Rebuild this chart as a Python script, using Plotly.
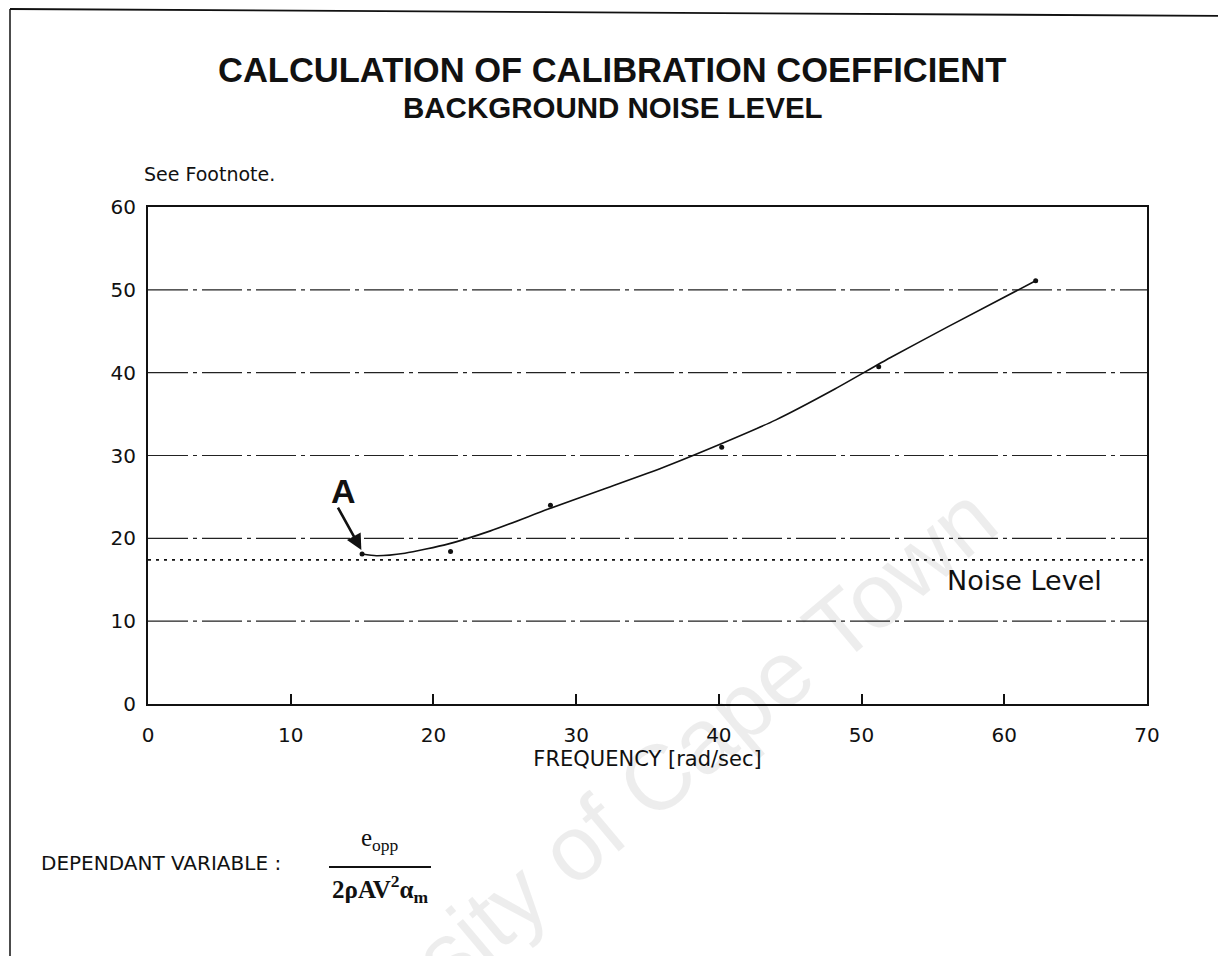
import plotly.graph_objects as go

# ---- data ----
freq = [15.0, 21.2, 28.2, 40.2, 51.2, 62.2]          # measured points [rad/sec]
coef = [18.1, 18.4, 24.0, 31.0, 40.7, 51.1]          # dependent variable

fit_freq = [15.0, 16.0, 18.0, 21.0, 24.0, 28.0, 32.0, 36.0, 40.0, 44.0, 48.0, 52.0, 56.0, 62.2]
fit_coef = [18.1, 17.9, 18.2, 19.3, 20.9, 23.5, 26.0, 28.5, 31.3, 34.3, 37.9, 41.8, 45.5, 51.1]

noise_level = 17.4
x_ticks = [0, 10, 20, 30, 40, 50, 60, 70]
y_ticks = [0, 10, 20, 30, 40, 50, 60]
grid_levels = [10, 20, 30, 40, 50]

W, H = 1226, 956
L, R, T, B = 140, 1139, 199, 696


def px(x):
    return (x - L) / (R - L)


def py(y):
    return (B - y) / (B - T)


FONT = "DejaVu Sans, Liberation Sans, sans-serif"
TFONT = "Liberation Sans, Arial, sans-serif"
SERIF = "Liberation Serif, Times New Roman, serif"
INK = "#111111"

fig = go.Figure()

# fitted curve
fig.add_trace(go.Scatter(x=fit_freq, y=fit_coef, mode="lines",
                         line=dict(color=INK, width=1.6, shape="spline", smoothing=0.6),
                         hoverinfo="skip", showlegend=False))
# data points
fig.add_trace(go.Scatter(x=freq, y=coef, mode="markers",
                         marker=dict(color=INK, size=5),
                         showlegend=False))

shapes = []
# dash-dot horizontal grid lines
for g in grid_levels:
    shapes.append(dict(type="line", xref="x", yref="y", x0=0, x1=70, y0=g, y1=g,
                       line=dict(color="#222222", width=1.2, dash="40px,5px,4px,5px"), layer="below"))
# noise level dotted line
shapes.append(dict(type="line", xref="x", yref="y", x0=0, x1=70, y0=noise_level, y1=noise_level,
                   line=dict(color=INK, width=1.6, dash="3px,5px")))
# scanned page frame
shapes.append(dict(type="line", xref="paper", yref="paper", x0=px(2), x1=px(2), y0=py(1), y1=py(956),
                   line=dict(color=INK, width=1.5)))
shapes.append(dict(type="line", xref="paper", yref="paper", x0=px(2), x1=px(1226), y0=py(1), y1=py(8),
                   line=dict(color=INK, width=1.8)))
# fraction bar
shapes.append(dict(type="line", xref="paper", yref="paper", x0=px(321), x1=px(423), y0=py(859), y1=py(859),
                   line=dict(color=INK, width=2)))

annotations = [
    dict(text="<b>CALCULATION OF CALIBRATION COEFFICIENT</b>", xref="paper", yref="paper",
         x=px(604), y=py(62), showarrow=False, xanchor="center", yanchor="middle",
         font=dict(family=TFONT, size=34.5, color=INK)),
    dict(text="<b>BACKGROUND NOISE LEVEL</b>", xref="paper", yref="paper",
         x=px(605), y=py(100), showarrow=False, xanchor="center", yanchor="middle",
         font=dict(family=TFONT, size=29.5, color=INK)),
    dict(text="See Footnote.", xref="paper", yref="paper", x=px(134), y=py(166),
         showarrow=False, xanchor="left", yanchor="middle",
         font=dict(family=FONT, size=19, color=INK)),
    dict(text="Noise Level", xref="x", yref="y", x=61.4, y=14.9, showarrow=False,
         xanchor="center", yanchor="middle", font=dict(family=FONT, size=27, color=INK)),
    dict(text="<b>A</b>", xref="x", yref="y", x=13.7, y=25.7, showarrow=False,
         xanchor="center", yanchor="middle", font=dict(family=TFONT, size=34, color=INK)),
    dict(text="", xref="x", yref="y", x=14.95, y=18.6, axref="x", ayref="y", ax=13.25, ay=23.9,
         showarrow=True, arrowhead=2, arrowsize=1.2, arrowwidth=2.6, arrowcolor=INK),
    dict(text="DEPENDANT VARIABLE :", xref="paper", yref="paper", x=px(31), y=py(855),
         showarrow=False, xanchor="left", yanchor="middle",
         font=dict(family=FONT, size=20, color=INK)),
    dict(text="e<sub>opp</sub>", xref="paper", yref="paper", x=px(372), y=py(831),
         showarrow=False, xanchor="center", yanchor="middle",
         font=dict(family=SERIF, size=25, color=INK)),
    dict(text="<b>2ρAV<sup>2</sup>α<sub>m</sub></b>", xref="paper", yref="paper", x=px(372), y=py(881),
         showarrow=False, xanchor="center", yanchor="middle",
         font=dict(family=SERIF, size=25, color=INK)),
    # watermark
    dict(text="University of Cape Town", xref="paper", yref="paper", x=px(595), y=py(815),
         showarrow=False, xanchor="center", yanchor="middle", textangle=-40,
         font=dict(family=TFONT, size=92, color="rgba(0,0,0,0.07)")),
]

fig.update_layout(
    width=W, height=H,
    margin=dict(l=L, r=W - R, t=T, b=H - B),
    paper_bgcolor="white", plot_bgcolor="white",
    shapes=shapes, annotations=annotations,
    font=dict(family=FONT, size=20, color=INK),
    xaxis=dict(range=[0, 70], tickvals=x_ticks, showgrid=False, zeroline=False,
               showline=True, linecolor=INK, linewidth=2, mirror=True,
               ticks="inside", ticklen=10, tickwidth=1.5, tickcolor=INK,
               ticklabelstandoff=12,
               tickfont=dict(size=20), title=dict(text="FREQUENCY [rad/sec]", standoff=2,
                                                   font=dict(size=21))),
    yaxis=dict(range=[0, 60], tickvals=y_ticks, showgrid=False, zeroline=False,
               showline=True, linecolor=INK, linewidth=2, mirror=True,
               ticks="", ticklabelstandoff=6, tickfont=dict(size=20)),
)

fig.write_html("out.html")
